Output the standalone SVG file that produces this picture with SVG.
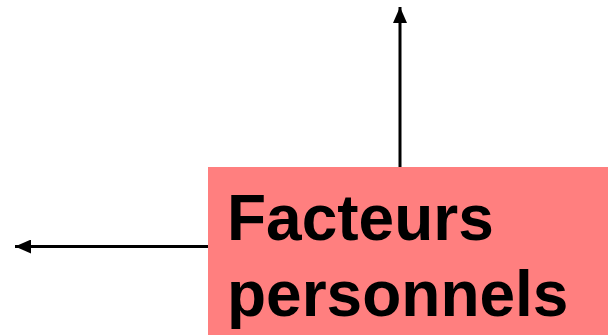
<svg xmlns="http://www.w3.org/2000/svg" width="608" height="335" viewBox="0 0 608 335">
<style>
.conn{stroke:#000;stroke-width:3;fill:none}
.lbl{font-family:"Liberation Sans",Arial,sans-serif;font-weight:bold;font-size:64px;fill:#000}
</style>
<defs>
<marker id="ah" markerUnits="userSpaceOnUse" markerWidth="16" markerHeight="14" refX="16" refY="7" orient="auto">
<path d="M0,0 L16,7 L0,14 Z" fill="#000"/>
</marker>
</defs>
<rect width="608" height="335" fill="#fff"/>
<g id="connectors">
<line class="conn" x1="400" y1="167" x2="400" y2="7" marker-end="url(#ah)"/>
<line class="conn" x1="208" y1="246.5" x2="15" y2="246.5" marker-end="url(#ah)"/>
</g>
<g id="node-facteurs">
<rect x="208" y="167" width="400" height="168" fill="#FF7F7F"/>
<text class="lbl" x="227" y="240">Facteurs</text>
<text class="lbl" x="227" y="316">personnels</text>
</g>
</svg>
